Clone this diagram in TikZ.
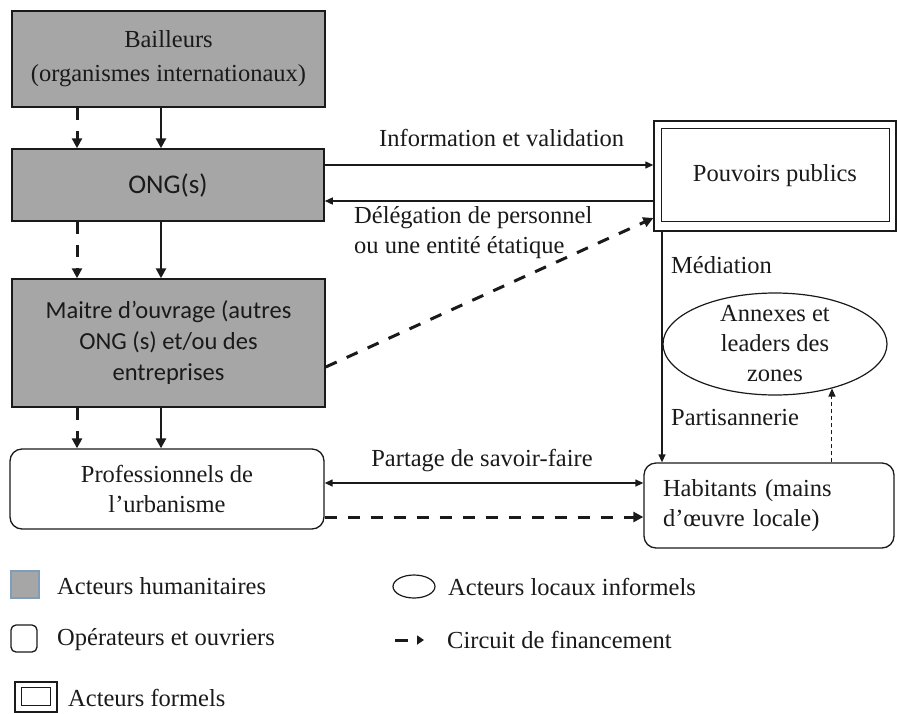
\documentclass[tikz,border=0pt]{standalone}
\usepackage{fontspec}
\setmainfont{Liberation Serif}
\newfontfamily\calib{Carlito}
\usetikzlibrary{arrows.meta,shapes.geometric,calc}
\definecolor{hgray}{HTML}{A6A6A6}
\definecolor{ink}{HTML}{1A1A1A}
\definecolor{legblue}{HTML}{7F9DB9}
\begin{document}
\begin{tikzpicture}[x=1pt,y=-1pt,
  every node/.style={font=\fontsize{24.5}{30}\selectfont, inner sep=0pt, text=ink},
  human/.style={draw=ink, line width=1.5pt, fill=hgray, align=center},
  oper/.style={draw=ink, line width=1.3pt, rounded corners=12pt, align=center},
  formal/.style={draw=ink, line width=1.4pt},
  informal/.style={draw=ink, line width=1.2pt, ellipse},
  flow/.style={draw=ink, line width=1.3pt, -{Triangle[length=8pt,width=7pt]}},
  bothflow/.style={draw=ink, line width=1.3pt, {Triangle[length=8pt,width=7pt]}-{Triangle[length=8pt,width=7pt]}},
  strong/.style={draw=ink, line width=2.5pt, -{Triangle[length=10pt,width=10pt]}},
  fund/.style={draw=ink, line width=3pt, dash pattern=on 12pt off 11pt, -{Triangle[length=10pt,width=10pt]}},
  thinfund/.style={draw=ink, line width=1pt, dash pattern=on 4pt off 3pt, -{Triangle[length=8pt,width=7pt]}},
  lbl/.style={anchor=west, align=left}
]
\useasboundingbox (0,0) rectangle (897,713);

% main boxes
\node[human, minimum width=313pt, minimum height=96pt, font=\fontsize{24.5}{34}\selectfont] (bail) at (168.5,59) {Bailleurs\\(organismes internationaux)};
\node[human, minimum width=312pt, minimum height=72pt, font=\calib\fontsize{27}{32}\selectfont] (ong) at (168,185) {ONG(s)};
\node[human, minimum width=313pt, minimum height=128pt, font=\calib\fontsize{24.5}{31}\selectfont] (mo) at (168.5,343) {Maitre d’ouvrage (autres\\ONG (s) et/ou des\\entreprises};
\node[oper, minimum width=314pt, minimum height=80pt] (prof) at (167,489) {Professionnels de\\l’urbanisme};
\node[formal, minimum width=242pt, minimum height=110pt] (pp) at (775,176) {Pouvoirs publics};
\draw[ink, line width=1.4pt] ([shift={(8pt,-8pt)}]pp.north west) rectangle ([shift={(-7pt,10pt)}]pp.south east);
\node[informal, minimum width=224pt, minimum height=102pt] (ell) at (775,344) {};
\node[align=center] (ellt) at (ell.center) {Annexes et\\leaders des\\zones};
\node[oper, text width=212pt, inner xsep=19pt, minimum height=85pt, align=left] (hab) at (769,505.5) {Habitants (mains\\d’œuvre locale)};

% vertical arrows
\coordinate (cd) at (77,0);
\coordinate (cs) at (161,0);
\draw[fund] (bail.south -| cd) -- (ong.north -| cd);
\draw[strong] (bail.south -| cs) -- (ong.north -| cs);
\draw[fund] (ong.south -| cd) -- (mo.north -| cd);
\draw[strong] (ong.south -| cs) -- (mo.north -| cs);
\draw[fund] (mo.south -| cd) -- (prof.north -| cd);
\draw[strong] (mo.south -| cs) -- (prof.north -| cs);

% ONG <-> pouvoirs publics
\draw[flow] ([yshift=20pt]ong.east) -- ([yshift=20pt]ong.east -| pp.west);
\draw[flow] ([yshift=-16pt]ong.east -| pp.west) -- ([yshift=-16pt]ong.east);
\node[lbl] (info) at (379,138) {Information et validation};
\node[lbl] (deleg) at (354,233) {Délégation de personnel\\ou une entité étatique};

% maitre d'ouvrage -> pouvoirs publics
\draw[fund] ([yshift=-24pt]mo.east) -- ([yshift=-42pt]pp.west);

% mediation
\coordinate (mx) at (662,0);
\draw[flow] (pp.south -| mx) -- (hab.north -| mx);
\node[lbl] (med) at (671,265) {Médiation};
\node[lbl] (part) at (671,418) {Partisannerie};
\draw[thinfund] (ell.-38 |- hab.north) -- (ell.-38);

% prof <-> habitants
\draw[bothflow] ([yshift=6pt]prof.east) -- ([yshift=6pt]prof.east -| hab.west);
\draw[fund] ([yshift=-28pt]prof.east) -- ([yshift=-28pt]prof.east -| hab.west);
\node (partage) at (482,461) {Partage de savoir-faire};

% legend
\node[draw=legblue, line width=1.2pt, fill=hgray, minimum width=28pt, minimum height=27pt] (lg1) at (25,584.5) {};
\node[lbl] (lt1) at (57,586) {Acteurs humanitaires};
\node[draw=ink, line width=1.3pt, rounded corners=5pt, minimum width=26pt, minimum height=27pt] (lg2) at (24,638.5) {};
\node[lbl] (lt2) at (57,640) {Opérateurs et ouvriers};
\node[draw=ink, line width=1.4pt, minimum width=42pt, minimum height=30pt] (lg3) at (36,697) {};
\draw[ink, line width=1.4pt] ([shift={(7pt,-6pt)}]lg3.north west) rectangle ([shift={(-7pt,7pt)}]lg3.south east);
\node[lbl] (lt3) at (68,698) {Acteurs formels};
\node[draw=ink, line width=1.2pt, ellipse, minimum width=42pt, minimum height=23pt] (lg4) at (414,586.5) {};
\node[lbl] (lt4) at (448,587) {Acteurs locaux informels};
\coordinate (la) at (395,640);
\coordinate (lb) at (424,640);
\draw[draw=ink, line width=3pt, dash pattern=on 13pt off 9pt, -{Triangle[length=7pt,width=9pt]}] (la) -- (lb);
\node[lbl] (lt5) at (447,640) {Circuit de financement};
\end{tikzpicture}
\end{document}
